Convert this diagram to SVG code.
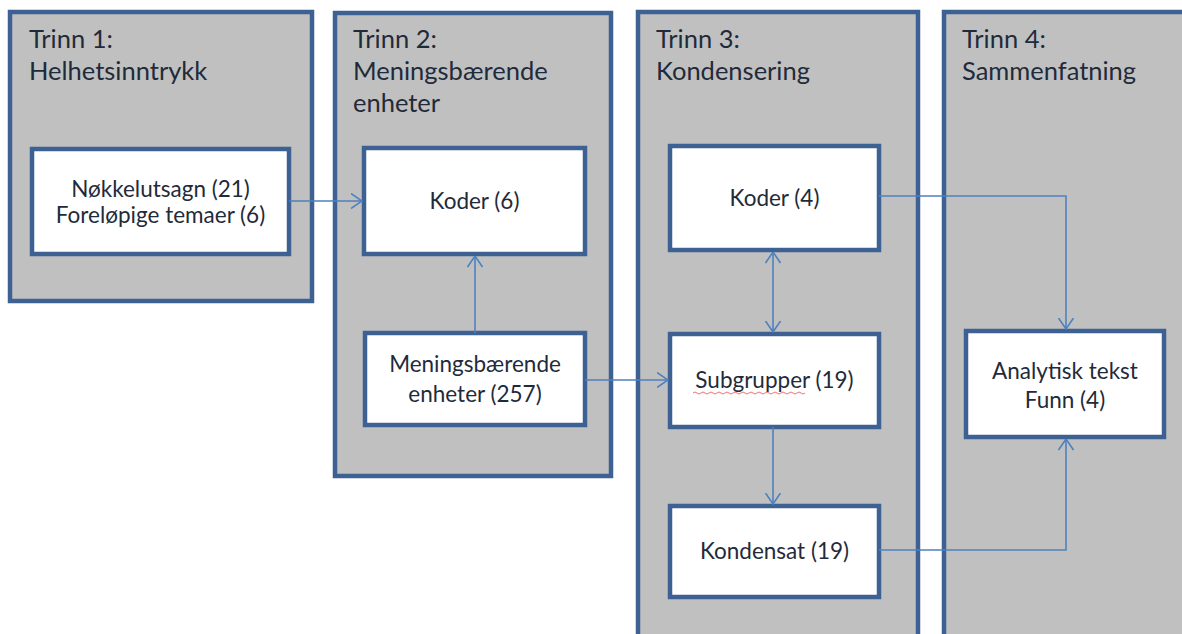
<svg xmlns="http://www.w3.org/2000/svg" width="1182" height="634" viewBox="0 0 1182 634">
<defs>
<style>
.panel{fill:#c0c0c0;stroke:#3d6192;stroke-width:4.5}
.box{fill:#ffffff;stroke:#3d6192;stroke-width:4.5}
.title{font-family:Lato,"Open Sans",sans-serif;font-size:25.5px;fill:#1f2b3a}
.lbl{font-family:Lato,"Open Sans",sans-serif;font-size:22.5px;fill:#1f2b3a;text-anchor:middle}
.conn{fill:none;stroke:#4f81bd;stroke-width:1.6}
</style>
<marker id="arr" viewBox="0 0 12 16" refX="11.5" refY="8" markerWidth="12" markerHeight="16" markerUnits="userSpaceOnUse" orient="auto-start-reverse">
<path d="M0.5,0.5 L11.5,8 L0.5,15.5" fill="none" stroke="#4f81bd" stroke-width="1.6"/>
</marker>
</defs>
<rect width="1182" height="634" fill="#ffffff"/>
<g id="panel1">
<rect class="panel" x="10" y="12" width="302" height="289"/>
<text class="title" x="29" y="48">Trinn 1:</text>
<text class="title" x="29" y="80">Helhetsinntrykk</text>
</g>
<g id="panel2">
<rect class="panel" x="335" y="13" width="276" height="463"/>
<text class="title" x="353" y="48">Trinn 2:</text>
<text class="title" x="353" y="80">Meningsbærende</text>
<text class="title" x="353" y="112">enheter</text>
</g>
<g id="panel3">
<rect class="panel" x="638" y="12" width="280" height="640"/>
<text class="title" x="656" y="48">Trinn 3:</text>
<text class="title" x="656" y="80">Kondensering</text>
</g>
<g id="panel4">
<rect class="panel" x="944" y="12" width="260" height="640"/>
<text class="title" x="962" y="48">Trinn 4:</text>
<text class="title" x="962" y="80">Sammenfatning</text>
</g>
<g id="n-nokkel">
<rect class="box" x="32" y="149" width="257" height="105"/>
<text class="lbl" x="160.5" y="197">Nøkkelutsagn (21)</text>
<text class="lbl" x="160.5" y="223">Foreløpige temaer (6)</text>
</g>
<g id="n-koder6">
<rect class="box" x="364" y="148" width="221" height="106"/>
<text class="lbl" x="474.5" y="209">Koder (6)</text>
</g>
<g id="n-mening">
<rect class="box" x="365" y="333" width="220" height="92"/>
<text class="lbl" x="475" y="372">Meningsbærende</text>
<text class="lbl" x="475" y="402">enheter (257)</text>
</g>
<g id="n-koder4">
<rect class="box" x="670" y="146" width="209" height="104"/>
<text class="lbl" x="774.5" y="206">Koder (4)</text>
</g>
<g id="n-subgr">
<rect class="box" x="670" y="334" width="209" height="93"/>
<text class="lbl" x="774.5" y="388">Subgrupper (19)</text>
<path d="M693,393 q2,-2 4,0 t4,0 t4,0 t4,0 t4,0 t4,0 t4,0 t4,0 t4,0 t4,0 t4,0 t4,0 t4,0 t4,0 t4,0 t4,0 t4,0 t4,0 t4,0 t4,0 t4,0 t4,0 t4,0 t4,0 t4,0 t4,0 t4,0 t4,0" fill="none" stroke="#e05050" stroke-width="0.8"/>
</g>
<g id="n-kondensat">
<rect class="box" x="670" y="506" width="209" height="91"/>
<text class="lbl" x="774.5" y="559">Kondensat (19)</text>
</g>
<g id="n-analytisk">
<rect class="box" x="966" y="331" width="198" height="106"/>
<text class="lbl" x="1065" y="379">Analytisk tekst</text>
<text class="lbl" x="1065" y="408">Funn (4)</text>
</g>
<g id="connectors">
<path class="conn" d="M289,201 L362,201" marker-end="url(#arr)"/>
<path class="conn" d="M475,333 L475,256" marker-end="url(#arr)"/>
<path class="conn" d="M585,380 L668,380" marker-end="url(#arr)"/>
<path class="conn" d="M773,252 L773,332" marker-start="url(#arr)" marker-end="url(#arr)"/>
<path class="conn" d="M773,427 L773,504" marker-end="url(#arr)"/>
<path class="conn" d="M879,196 L1066,196 L1066,329" marker-end="url(#arr)"/>
<path class="conn" d="M879,550 L1066,550 L1066,439" marker-end="url(#arr)"/>
</g>
</svg>
